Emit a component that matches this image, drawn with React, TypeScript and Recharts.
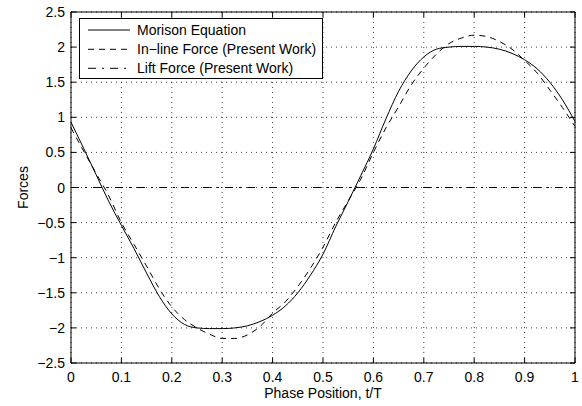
import React from 'react';
import { LineChart, Line, XAxis, YAxis, CartesianGrid, ReferenceArea, Legend } from 'recharts';

const phase = [0, 0.025, 0.05, 0.075, 0.1, 0.125, 0.15, 0.175, 0.2, 0.225, 0.25, 0.275, 0.3, 0.325, 0.35, 0.375, 0.4, 0.425, 0.45, 0.475, 0.5, 0.525, 0.55, 0.575, 0.6, 0.625, 0.65, 0.675, 0.7, 0.725, 0.75, 0.775, 0.8, 0.825, 0.85, 0.875, 0.9, 0.925, 0.95, 0.975, 1];

const morison = [0.93, 0.56, 0.18, -0.2, -0.54, -0.87, -1.22, -1.55, -1.8, -1.95, -2.0, -2.01, -2.01, -2.0, -1.97, -1.91, -1.82, -1.69, -1.5, -1.25, -0.95, -0.56, -0.2, 0.17, 0.55, 0.98, 1.37, 1.66, 1.86, 1.97, 2.0, 2.01, 2.01, 2.0, 1.97, 1.91, 1.82, 1.69, 1.5, 1.25, 0.94];

const inline = [0.85, 0.52, 0.2, -0.12, -0.5, -0.81, -1.12, -1.44, -1.7, -1.88, -2.0, -2.09, -2.15, -2.15, -2.1, -1.98, -1.79, -1.63, -1.41, -1.15, -0.85, -0.5, -0.19, 0.12, 0.5, 0.85, 1.15, 1.46, 1.7, 1.9, 2.05, 2.13, 2.17, 2.15, 2.08, 1.97, 1.81, 1.63, 1.39, 1.14, 0.87];

const lift = [0, 0, 0, 0, 0, 0, 0, 0, 0, 0, 0, 0, 0, 0, 0, 0, 0, 0, 0, 0, 0, 0, 0, 0, 0, 0, 0, 0, 0, 0, 0, 0, 0, 0, 0, 0, 0, 0, 0, 0, 0];

const xTicks = [0, 0.1, 0.2, 0.3, 0.4, 0.5, 0.6, 0.7, 0.8, 0.9, 1];
const yTicks = [-2.5, -2, -1.5, -1, -0.5, 0, 0.5, 1, 1.5, 2, 2.5];

const legendLabels = ['Morison Equation', 'In\u2212line Force (Present Work)', 'Lift Force (Present Work)'];
const xLabel = 'Phase Position, t/T';
const yLabel = 'Forces';

const data = phase.map((t, i) => ({ t, morison: morison[i], inline: inline[i], lift: lift[i] }));

const FONT = '"Liberation Sans", Arial, Helvetica, sans-serif';
const PLOT_W = 504;
const PLOT_H = 351;
const DASH = '6 5';
const DASHDOT = '8 6 2 6';

const fmt = (v: number) => {
  const s = String(Math.abs(v));
  return v < 0 ? '\u2212' + s : s;
};

const XTick = (props: any) => {
  const { x, y, payload } = props;
  return (
    <g>
      <line x1={x} x2={x} y1={y} y2={y - 5} stroke="#000" />
      <line x1={x} x2={x} y1={y - PLOT_H} y2={y - PLOT_H + 5} stroke="#000" />
      <text x={x} y={y + 18.5} textAnchor="middle" fontSize={14} fontFamily={FONT} fill="#000">
        {fmt(payload.value)}
      </text>
    </g>
  );
};

const YTick = (props: any) => {
  const { x, y, payload } = props;
  return (
    <g>
      <line x1={x} x2={x + 5} y1={y} y2={y} stroke="#000" />
      <line x1={x + PLOT_W} x2={x + PLOT_W - 5} y1={y} y2={y} stroke="#000" />
      <text x={x - 6} y={y + 5} textAnchor="end" fontSize={14} fontFamily={FONT} fill="#000">
        {fmt(payload.value)}
      </text>
    </g>
  );
};

const LegendBox = () => {
  const rows = [12, 31.3, 50.3];
  const dashes = [undefined, DASH, DASHDOT];
  return (
    <svg width={245} height={62} style={{ display: 'block' }}>
      <rect x={0.5} y={0.5} width={243} height={60} fill="#fff" stroke="#000" />
      {legendLabels.map((lab, i) => (
        <g key={lab}>
          <line x1={9} x2={51} y1={rows[i]} y2={rows[i]} stroke="#000" strokeDasharray={dashes[i]} />
          <text x={58} y={rows[i] + 5} fontSize={14} fontFamily={FONT} fill="#000">{lab}</text>
        </g>
      ))}
    </svg>
  );
};

export default function App() {
  return (
    <div style={{ position: 'absolute', left: 0, top: 0, background: '#fff' }}>
      <LineChart width={582} height={406} data={data} margin={{ top: 12, right: 7, bottom: 0, left: 0 }}>
        <CartesianGrid stroke="#000" strokeDasharray="1 4" strokeOpacity={0.75} />
        <XAxis
          dataKey="t"
          type="number"
          domain={[0, 1]}
          ticks={xTicks}
          interval={0}
          height={43}
          tickSize={0}
          tickMargin={0}
          tickLine={false}
          axisLine={false}
          tick={<XTick />}
          label={{
            content: (p: any) => {
              const vb = p.viewBox || { x: 71, y: 363, width: 504 };
              return (
                <text x={vb.x + vb.width / 2} y={vb.y + 35} textAnchor="middle" fontSize={14} fontFamily={FONT} fill="#000">
                  {xLabel}
                </text>
              );
            },
          }}
        />
        <YAxis
          type="number"
          domain={[-2.5, 2.5]}
          ticks={yTicks}
          interval={0}
          width={71}
          tickSize={0}
          tickMargin={0}
          tickLine={false}
          axisLine={false}
          tick={<YTick />}
          label={{
            content: (p: any) => {
              const vb = p.viewBox || { x: 0, y: 12, height: 351 };
              const cx = vb.x + 28;
              const cy = vb.y + vb.height / 2;
              return (
                <text x={cx} y={cy} transform={`rotate(-90, ${cx}, ${cy})`} textAnchor="middle" fontSize={14} fontFamily={FONT} fill="#000">
                  {yLabel}
                </text>
              );
            },
          }}
        />
        <ReferenceArea x1={0} x2={1} y1={-2.5} y2={2.5} fill="none" stroke="#000" strokeWidth={1} ifOverflow="visible" />
        <Line type="monotone" dataKey="lift" name={legendLabels[2]} stroke="#000" strokeWidth={1} strokeDasharray={DASHDOT} dot={false} isAnimationActive={false} />
        <Line type="monotone" dataKey="inline" name={legendLabels[1]} stroke="#000" strokeWidth={1} strokeDasharray={DASH} dot={false} isAnimationActive={false} />
        <Line type="monotone" dataKey="morison" name={legendLabels[0]} stroke="#000" strokeWidth={1} dot={false} isAnimationActive={false} />
        <Legend
          layout="vertical"
          align="center"
          verticalAlign="middle"
          wrapperStyle={{ left: 79, top: 18, width: 245, height: 62, lineHeight: 0 }}
          content={() => <LegendBox />}
        />
      </LineChart>
    </div>
  );
}
